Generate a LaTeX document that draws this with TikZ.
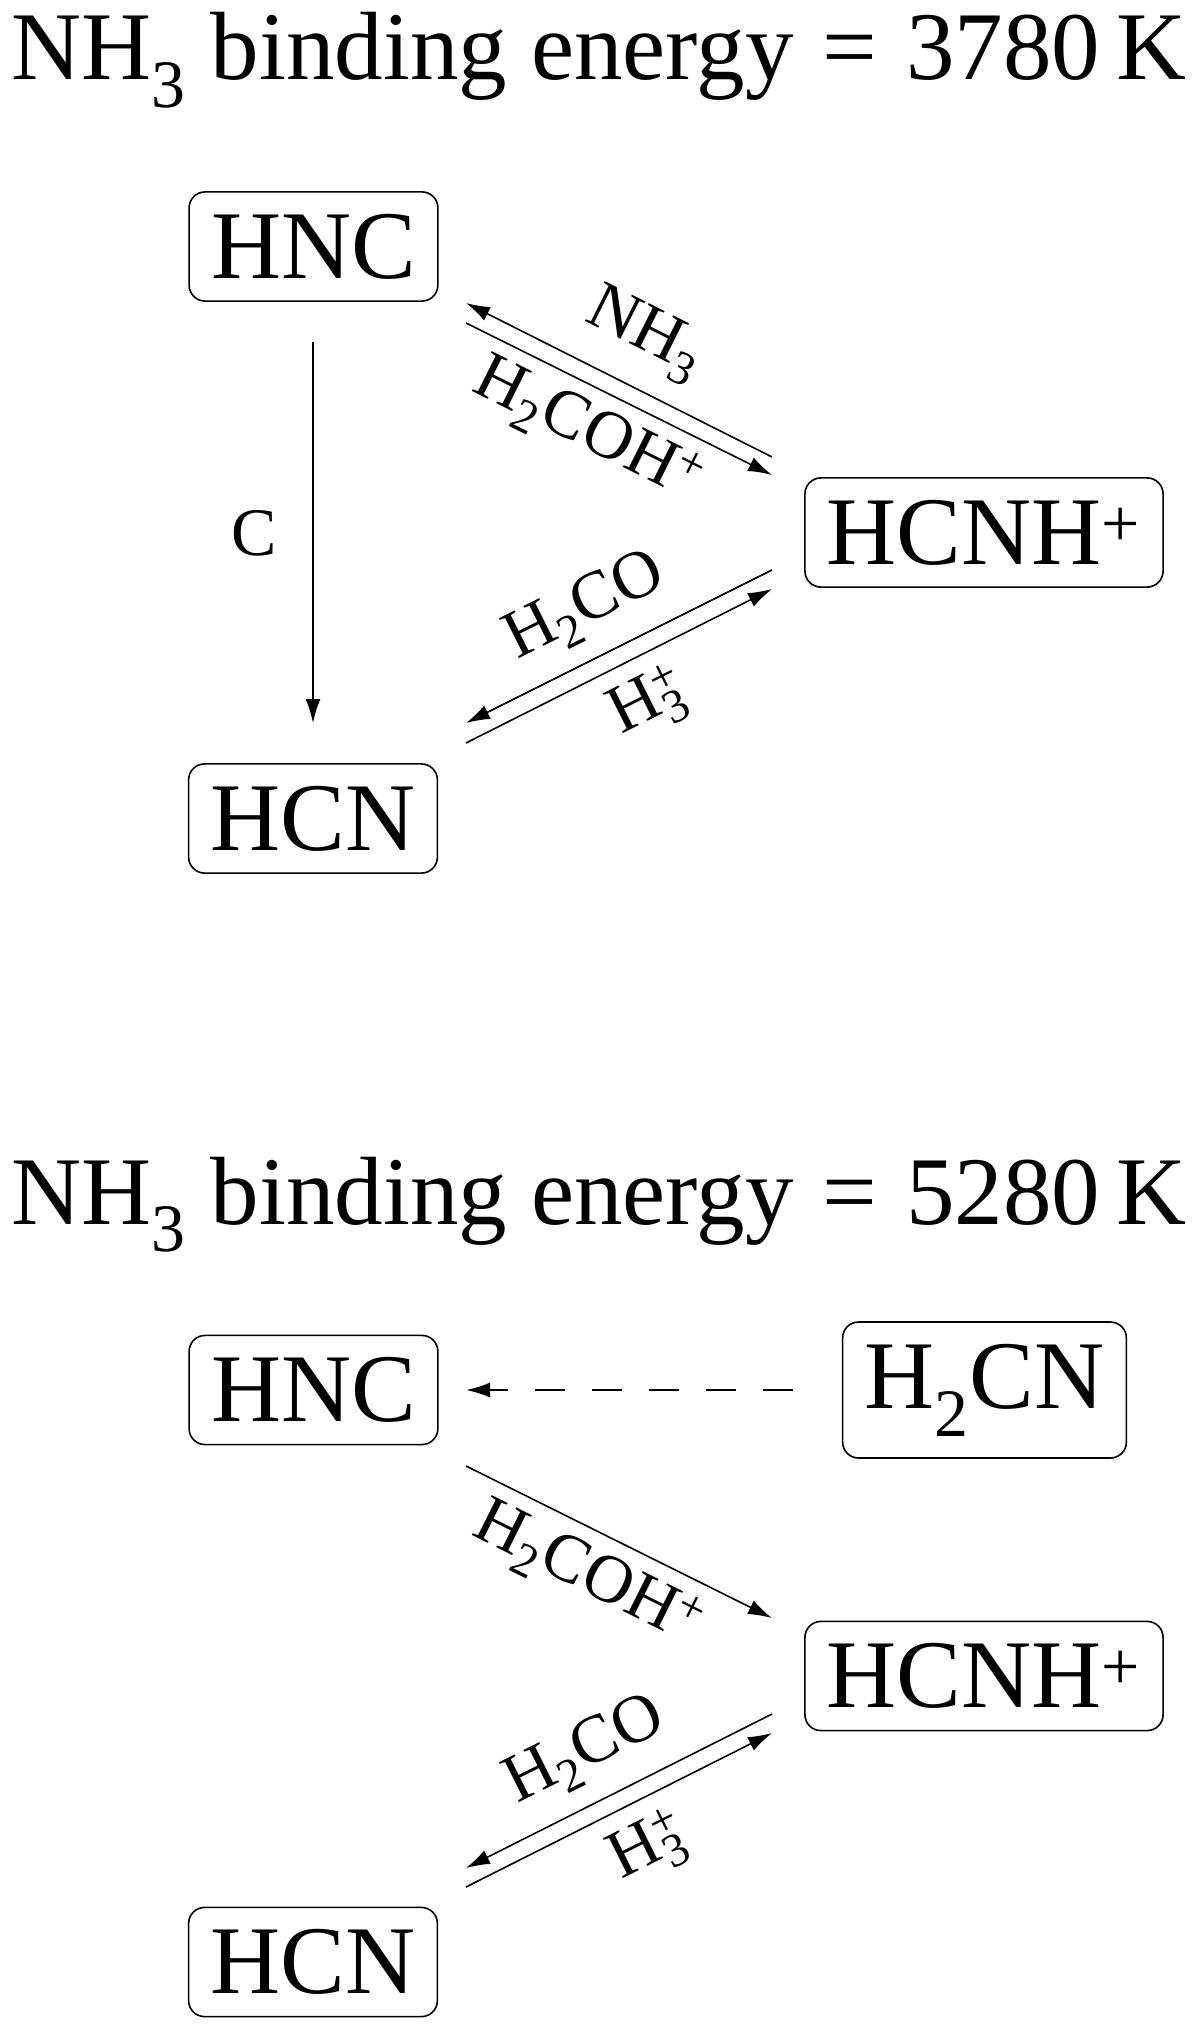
\documentclass[tikz,border=0pt]{standalone}
\usepackage{fontspec}
\setmainfont{Liberation Serif}
\usetikzlibrary{arrows.meta}
\newcommand{\hthree}{H\rlap{\textsuperscript{+}}\textsubscript{3}}
\begin{document}
\begin{tikzpicture}[x=0.5pt,y=-0.5pt,
  box/.style={draw, rounded corners=8pt, line width=0.8pt, inner xsep=11pt, inner ysep=11pt, font=\fontsize{48.5}{58}\selectfont},
  ttl/.style={anchor=base west, inner sep=0pt, font=\fontsize{48.5}{58}\selectfont},
  lbl/.style={inner sep=0pt, font=\fontsize{34}{40}\selectfont},
  arr/.style={line width=0.8pt, -{Latex[length=12pt,width=7.5pt]}},
  dsh/.style={arr, line width=1pt, dash pattern=on 15pt off 13.5pt}]
\useasboundingbox (0,0) rectangle (1200,2032);

% ---------- top panel ----------
\node[ttl] (t1) at (11,80) {NH\textsubscript{3} binding energy\hspace{0.3em}=\hspace{0.3em}3780\,K};
\node[box] (hnc1) at (313.5,246.5) {HNC};
\node[box] (hcnh1) at (984,532.5) {HCNH\textsuperscript{+}};
\node[box] (hcn1) at (313,818.5) {HCN};

\coordinate (c1a) at (313,342);   \coordinate (c1b) at (313,723);
\coordinate (n1a) at (772,457);   \coordinate (n1b) at (466,303);
\coordinate (h1a) at (466,323);   \coordinate (h1b) at (772,475);
\coordinate (f1a) at (772,570);   \coordinate (f1b) at (466,723);
\coordinate (p1a) at (466,743);   \coordinate (p1b) at (772,589);

\draw[arr] (c1a) -- (c1b);
\draw[arr] (n1a) -- (n1b);
\draw[arr] (h1a) -- (h1b);
\draw[arr] (f1a) -- (f1b);
\draw[arr] (p1a) -- (p1b);

\node[lbl] (lc1) at (254,533) {C};
\node[lbl, rotate=-26.57] (ln1) at (645,335) {NH\textsubscript{3}};
\node[lbl, rotate=-26.57] (lh1) at (587,432) {H\textsubscript{2}COH\textsuperscript{+}};
\node[lbl, rotate=26.57] (lf1) at (586,608) {H\textsubscript{2}CO};
\node[lbl, rotate=26.57] (lp1) at (648,705) {\hthree};

% ---------- bottom panel ----------
\node[ttl] (t2) at (11,1224) {NH\textsubscript{3} binding energy\hspace{0.3em}=\hspace{0.3em}5280\,K};
\node[box] (hnc2) at (313.5,1390) {HNC};
\node[box] (h2cn2) at (984.5,1390) {H\textsubscript{2}CN};
\node[box] (hcnh2) at (984,1676) {HCNH\textsuperscript{+}};
\node[box] (hcn2) at (313,1962) {HCN};

\coordinate (d2a) at (793,1390);  \coordinate (d2b) at (466,1390);
\coordinate (h2a) at (466,1466);  \coordinate (h2b) at (772,1618);
\coordinate (f2a) at (772,1714);  \coordinate (f2b) at (466,1868);
\coordinate (p2a) at (466,1887);  \coordinate (p2b) at (772,1733);

\draw[dsh] (d2a) -- (d2b);
\draw[arr] (h2a) -- (h2b);
\draw[arr] (f2a) -- (f2b);
\draw[arr] (p2a) -- (p2b);

\node[lbl, rotate=-26.57] (lh2) at (587,1576) {H\textsubscript{2}COH\textsuperscript{+}};
\node[lbl, rotate=26.57] (lf2) at (586,1752) {H\textsubscript{2}CO};
\node[lbl, rotate=26.57] (lp2) at (648,1849) {\hthree};
\end{tikzpicture}
\end{document}
